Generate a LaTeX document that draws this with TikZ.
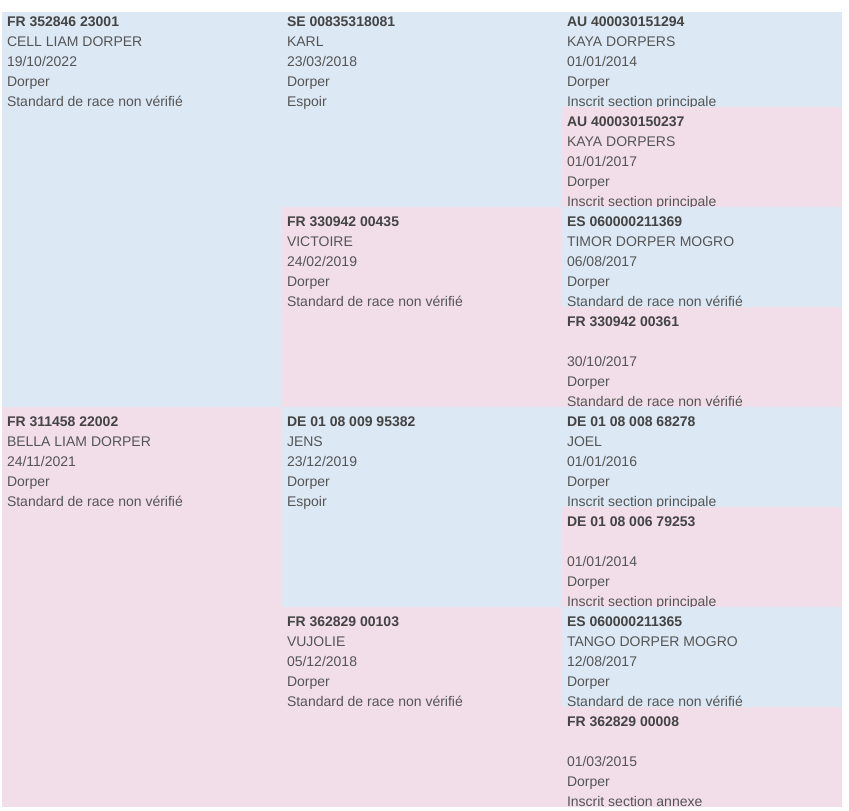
\documentclass[tikz,border=0pt]{standalone}
\usepackage{fontspec}
\setmainfont{Liberation Sans}
\definecolor{maleblue}{HTML}{DCE8F4}
\definecolor{femalepink}{HTML}{F1DEE9}
\definecolor{txtgray}{HTML}{555555}
\definecolor{boldgray}{HTML}{444444}
\tikzset{
  box/.style={draw=none,inner sep=0pt,outer sep=0pt,minimum width=280pt},
  male/.style={box,fill=maleblue},
  female/.style={box,fill=femalepink},
  gen1/.style={minimum height=400pt},
  gen2/.style={minimum height=200pt},
  gen3/.style={minimum height=100pt},
  txt/.style={inner sep=0pt,outer sep=0pt,align=left,text=txtgray,
    font=\fontsize{14}{20}\selectfont}
}
\newcommand\pcell[9]{%
  \node[#4,anchor=north west] (#1) at (#2,#3) {};
  \node[txt,anchor=north west] (#1t) at ([shift={(5pt,-5pt)}]#1.north west)
    {\rule{0pt}{14pt}\textcolor{boldgray}{\textbf{#5}}\\#6\\#7\\#8\\#9};
}
\begin{document}
\begin{tikzpicture}[x=1pt,y=-1pt]
\useasboundingbox (0,0) rectangle (849,811);
\begin{scope}
\clip (2,12) rectangle (842,807);
% generation 1
\pcell{a}{2}{7}{male,gen1}{FR 352846 23001}{CELL LIAM DORPER}{19/10/2022}{Dorper}{Standard de race non vérifié}
\pcell{b}{2}{407}{female,gen1}{FR 311458 22002}{BELLA LIAM DORPER}{24/11/2021}{Dorper}{Standard de race non vérifié}
% generation 2
\pcell{aa}{282}{7}{male,gen2}{SE 00835318081}{KARL}{23/03/2018}{Dorper}{Espoir}
\pcell{ab}{282}{207}{female,gen2}{FR 330942 00435}{VICTOIRE}{24/02/2019}{Dorper}{Standard de race non vérifié}
\pcell{ba}{282}{407}{male,gen2}{DE 01 08 009 95382}{JENS}{23/12/2019}{Dorper}{Espoir}
\pcell{bb}{282}{607}{female,gen2}{FR 362829 00103}{VUJOLIE}{05/12/2018}{Dorper}{Standard de race non vérifié}
% generation 3
\pcell{aaa}{562}{7}{male,gen3}{AU 400030151294}{KAYA DORPERS}{01/01/2014}{Dorper}{Inscrit section principale}
\pcell{aab}{562}{107}{female,gen3}{AU 400030150237}{KAYA DORPERS}{01/01/2017}{Dorper}{Inscrit section principale}
\pcell{aba}{562}{207}{male,gen3}{ES 060000211369}{TIMOR DORPER MOGRO}{06/08/2017}{Dorper}{Standard de race non vérifié}
\pcell{abb}{562}{307}{female,gen3}{FR 330942 00361}{\mbox{}}{30/10/2017}{Dorper}{Standard de race non vérifié}
\pcell{baa}{562}{407}{male,gen3}{DE 01 08 008 68278}{JOEL}{01/01/2016}{Dorper}{Inscrit section principale}
\pcell{bab}{562}{507}{female,gen3}{DE 01 08 006 79253}{\mbox{}}{01/01/2014}{Dorper}{Inscrit section principale}
\pcell{bba}{562}{607}{male,gen3}{ES 060000211365}{TANGO DORPER MOGRO}{12/08/2017}{Dorper}{Standard de race non vérifié}
\pcell{bbb}{562}{707}{female,gen3}{FR 362829 00008}{\mbox{}}{01/03/2015}{Dorper}{Inscrit section annexe}
\end{scope}
\end{tikzpicture}
\end{document}
